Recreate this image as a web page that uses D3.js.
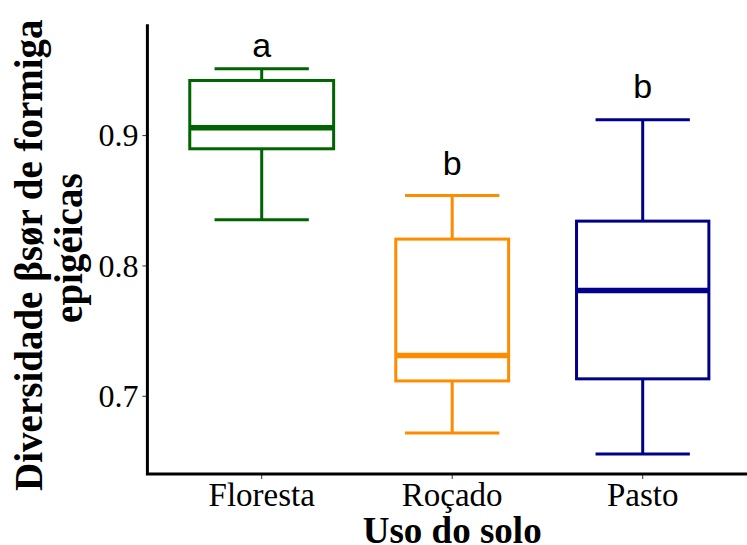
<!DOCTYPE html>
<html>
<head>
<meta charset="utf-8">
<script src="https://cdn.jsdelivr.net/npm/d3@7"></script>
<style>
  body { margin: 0; background: #fff; }
  svg { display: block; }
</style>
</head>
<body>
<svg class="chart"></svg>
<script>
'use strict'

// land use categories + boxplot stats
const categories = ['Floresta', 'Roçado', 'Pasto']
const whiskerLow = [0.835, 0.6715, 0.6554]
const q1 = [0.8895, 0.7114, 0.7130]
const median = [0.9056, 0.7309, 0.7807]
const q3 = [0.9419, 0.8202, 0.8340]
const whiskerHigh = [0.9509, 0.8536, 0.9117]
const nSamples = [13, 8, 11]   // guessed from the box widths (varwidth)
const letters = ['a', 'b', 'b']   // tukey groups
const letterAt = [0.9601, 0.8694, 0.9287]
const colors = ['#006400', '#ff8c00', '#00008b']
const yTicks = [0.7, 0.8, 0.9]

window.onload = function() {
    const width = 747,
        height = 545,
        left = 147.4,
        right = 757,
        top = 24.3,
        bottom = 474

    const x = d3.scaleBand()
      .domain(categories)
      .range([left, right])
      .paddingInner(0.25)
      .paddingOuter(0.225)

    const y = d3.scaleLinear()
      .domain([0.64, 0.985])
      .range([bottom, top])

    const maxN = d3.max(nSamples)
    const boxW = d3.scaleSqrt()
      .domain([0, maxN])
      .range([0, x.bandwidth() + 1])

    const svg = d3.select('.chart')
      .attr('width', width)
      .attr('height', height)

    const boxes = categories.map((c, i) => ({
      cat: c, lo: whiskerLow[i], q1: q1[i], med: median[i], q3: q3[i],
      hi: whiskerHigh[i], n: nSamples[i], letter: letters[i], lab: letterAt[i], color: colors[i]
    }))

    const g = svg.append('g')
      .selectAll('g')
      .data(boxes)
      .enter()
      .append('g')
      .attr('transform', d => 'translate(' + (x(d.cat) + x.bandwidth() / 2) + ',0)')

    const cap = x.bandwidth() * 0.66

    // whisker stems
    g.append('line')
      .attr('x1', 0).attr('x2', 0)
      .attr('y1', d => y(d.hi)).attr('y2', d => y(d.q3))
      .attr('stroke', d => d.color).attr('stroke-width', 3)
    g.append('line')
      .attr('x1', 0).attr('x2', 0)
      .attr('y1', d => y(d.q1)).attr('y2', d => y(d.lo))
      .attr('stroke', d => d.color).attr('stroke-width', 3)

    // caps
    g.selectAll('.cap')
      .data(d => [[d.hi, d.color], [d.lo, d.color]])
      .enter().append('line')
      .attr('class', 'cap')
      .attr('x1', -cap / 2).attr('x2', cap / 2)
      .attr('y1', d => y(d[0])).attr('y2', d => y(d[0]))
      .attr('stroke', d => d[1]).attr('stroke-width', 3)

    g.append('rect')
      .attr('x', d => -boxW(d.n) / 2)
      .attr('y', d => y(d.q3))
      .attr('width', d => boxW(d.n))
      .attr('height', d => y(d.q1) - y(d.q3))
      .attr('fill', '#fff')
      .attr('stroke', d => d.color)
      .attr('stroke-width', 3)

    g.append('line')
      .attr('x1', d => -boxW(d.n) / 2).attr('x2', d => boxW(d.n) / 2)
      .attr('y1', d => y(d.med)).attr('y2', d => y(d.med))
      .attr('stroke', d => d.color).attr('stroke-width', 5.5)

    g.append('text')
      .attr('x', 0)
      .attr('y', d => y(d.lab))
      .attr('text-anchor', 'middle')
      .style('font-family', '"Liberation Sans", Arial, sans-serif')
      .style('font-size', '34px')
      .attr('fill', '#000')
      .text(d => d.letter)

    // axes
    const yAxis = svg.append('g')
      .attr('transform', 'translate(' + left + ',0)')
      .call(d3.axisLeft(y).tickValues(yTicks).tickFormat(d3.format('.1f')).tickSize(5).tickPadding(4))
    const xAxis = svg.append('g')
      .attr('transform', 'translate(0,' + bottom + ')')
      .call(d3.axisBottom(x).tickSize(5).tickPadding(2))

    ;[yAxis, xAxis].forEach(ax => {
      ax.select('.domain').remove()
      ax.selectAll('.tick line').attr('stroke', '#333').attr('stroke-width', 1)
      ax.selectAll('text')
        .attr('fill', '#000')
        .style('font-family', '"Liberation Serif", "Times New Roman", serif')
    })
    yAxis.selectAll('text').style('font-size', '32px').attr('dy', '0.34em')
    xAxis.selectAll('text').style('font-size', '33px').attr('dy', '0.76em')

    // axis lines, drawn by hand so they meet at the corner
    svg.append('path')
      .attr('d', 'M' + left + ',' + top + 'V' + bottom + 'H' + right)
      .attr('fill', 'none')
      .attr('stroke', '#000')
      .attr('stroke-width', 3)

    svg.append('text')
      .attr('x', (left + right) / 2)
      .attr('y', 543)
      .attr('text-anchor', 'middle')
      .style('font-family', '"Liberation Serif", "Times New Roman", serif')
      .style('font-weight', 'bold')
      .style('font-size', '37px')
      .text('Uso do solo')

    const yTitle = svg.append('text')
      .attr('transform', 'translate(41.5,' + ((top + bottom) / 2 - 1) + ') rotate(-90)')
      .attr('text-anchor', 'middle')
      .style('font-family', '"Liberation Serif", "Times New Roman", serif')
      .style('font-weight', 'bold')
      .style('font-size', '39px')
    yTitle.append('tspan').attr('x', -7).attr('y', 0).text('Diversidade βsør de formiga')
    yTitle.append('tspan').attr('x', 0).attr('y', 40.5).text('epigéicas')
}
</script>
</body>
</html>
